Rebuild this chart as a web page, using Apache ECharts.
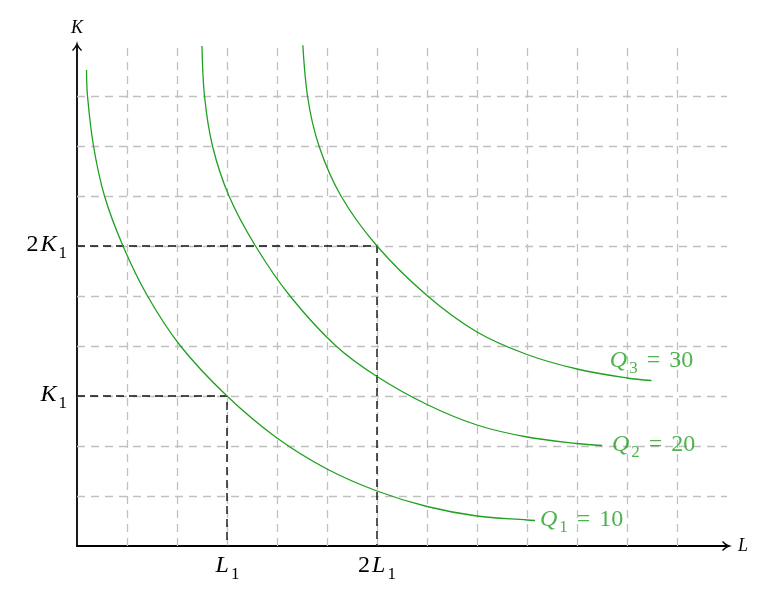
<!DOCTYPE html>
<html>
<head>
<meta charset="utf-8">
<script src="https://cdn.jsdelivr.net/npm/echarts@6/dist/echarts.min.js"></script>
<style>
html,body{margin:0;padding:0;background:#fff;}
#chart{width:775px;height:599px;}
</style>
</head>
<body>
<div id="chart"></div>
<script>
// ---- data ----
var xGridValues = [1,2,3,4,5,6,7,8,9,10,11,12];
var yGridValues = [1,2,3,4,5,6,7,8,9];
var L1 = 3, K1 = 3;
var xTickValues = [L1, 2 * L1];
var xTickLabels = ['{i|L}{s|1}', '{n|2}{i|L}{s|1}'];
var yTickValues = [K1, 2 * K1];
var yTickLabels = ['{i|K}{s|1}', '{n|2}{i|K}{s|1}'];

var q1Points = [[0.19,9.52],[0.21,9.0],[0.33,8.0],[0.55,7.0],[0.92,6.0],[1.41,5.0],[2.07,4.0],[3.0,3.0],[4.0,2.16],[5.0,1.54],[6.0,1.1],[7.0,0.79],[8.0,0.6],[9.0,0.52],[9.16,0.51]];
var q2Points = [[2.5,10.0],[2.55,9.0],[2.71,8.0],[3.04,7.0],[3.57,6.0],[4.26,5.0],[5.18,4.0],[6.0,3.39],[7.0,2.83],[8.0,2.42],[9.0,2.18],[10.0,2.05],[10.5,2.01]];
var q3Points = [[4.5,10.32],[4.61,9.0],[4.84,8.0],[5.28,7.0],[6.0,6.0],[7.0,5.01],[8.0,4.28],[9.0,3.83],[10.0,3.54],[11.0,3.36],[11.49,3.31]];
var qNames = ['1','2','3'];
var qValues = ['10','20','30'];

var green = '#20a020';
var serif = '"Liberation Serif", "DejaVu Serif", serif';

function richStyles(color, size) {
  var sub = Math.round(size * 0.7);
  return {
    i: {fontFamily: serif, fontStyle: 'italic', fontSize: size, color: color, lineHeight: size + 2, verticalAlign: 'top', padding: [0, 1, 0, 1]},
    n: {fontFamily: serif, fontSize: size, color: color, lineHeight: size + 2, verticalAlign: 'top', padding: [0, 1, 0, 0]},
    e: {fontFamily: serif, fontSize: size, color: color, lineHeight: size + 2, verticalAlign: 'top', padding: [0, 9, 0, 9]},
    s: {fontFamily: serif, fontSize: sub, color: color, lineHeight: sub, verticalAlign: 'top', padding: [12, 0, 0, 1]}
  };
}

var arrowPath = 'path://M0,9 Q4,5.5 5,0 Q6,5.5 10,9 L9.1,10 Q6,7.6 5,4 Q4,7.6 0.9,10 Z';

var chart = echarts.init(document.getElementById('chart'), null, {renderer: 'canvas'});

function curveSeries(name, pts) {
  return {
    name: name, type: 'line', data: pts, smooth: 0.35,
    showSymbol: false, symbol: 'none', z: 5,
    lineStyle: {color: green, width: 1.3}, itemStyle: {color: green}
  };
}

var curves = [q1Points, q2Points, q3Points];
var labelData = curves.map(function (pts, k) {
  var end = pts[pts.length - 1];
  var lab = k === 2
    ? {position: 'top', distance: 6, align: 'center'}
    : {position: 'right', distance: k === 0 ? 4 : 9};
  return {value: end, label: lab, qi: k};
});

var option = {
  animation: false,
  grid: {left: 77, right: 48, top: 46, bottom: 53, containLabel: false},
  xAxis: {
    type: 'value', min: 0, max: 13, interval: 1,
    name: 'L', nameLocation: 'end', nameGap: 11,
    nameTextStyle: {fontFamily: serif, fontStyle: 'italic', fontSize: 18, color: '#000', verticalAlign: 'middle'},
    axisLine: {show: true, symbol: ['none', arrowPath], symbolSize: [13, 10], lineStyle: {color: '#000', width: 1.8}},
    axisTick: {show: false},
    splitLine: {show: false},
    axisLabel: {
      show: true, margin: 8, interval: 0,
      formatter: function (v) { var i = xTickValues.indexOf(v); return i >= 0 ? xTickLabels[i] : ''; },
      rich: richStyles('#000', 24)
    }
  },
  yAxis: {
    type: 'value', min: 0, max: 10, interval: 1,
    name: 'K', nameLocation: 'end', nameGap: 9,
    nameTextStyle: {fontFamily: serif, fontStyle: 'italic', fontSize: 18, color: '#000'},
    axisLine: {show: true, symbol: ['none', arrowPath], symbolSize: [13, 10], lineStyle: {color: '#000', width: 1.8}},
    axisTick: {show: false},
    splitLine: {show: false},
    axisLabel: {
      show: true, margin: 10, interval: 0,
      formatter: function (v) { var i = yTickValues.indexOf(v); return i >= 0 ? yTickLabels[i] : ''; },
      rich: richStyles('#000', 24)
    }
  },
  series: [
    {
      name: 'grid', type: 'line', data: [], z: 1, silent: true,
      markLine: {
        z: 1, zlevel: 0,
        silent: true, symbol: ['none', 'none'], animation: false,
        label: {show: false},
        lineStyle: {color: '#c0c0c0', type: [8, 6], width: 1.3},
        emphasis: {disabled: true},
        data: xGridValues.map(function (v) { return {xAxis: v}; })
          .concat(yGridValues.map(function (v) { return {yAxis: v}; }))
      }
    },
    {
      name: 'ref1', type: 'line', data: [[0, K1], [L1, K1], [L1, 0]], symbol: 'none', z: 3, silent: true,
      lineStyle: {color: '#111', width: 1.4, type: [8, 5]}
    },
    {
      name: 'ref2', type: 'line', data: [[0, 2 * K1], [2 * L1, 2 * K1], [2 * L1, 0]], symbol: 'none', z: 3, silent: true,
      lineStyle: {color: '#111', width: 1.4, type: [8, 5]}
    },
    curveSeries('Q1', q1Points),
    curveSeries('Q2', q2Points),
    curveSeries('Q3', q3Points),
    {
      name: 'labels', type: 'scatter', symbolSize: 0, z: 6, silent: true,
      data: labelData,
      label: {
        show: true, color: green,
        formatter: function (p) {
          var k = p.data.qi;
          return '{i|Q}{s|' + qNames[k] + '}{e|=}{n|' + qValues[k] + '}';
        },
        rich: richStyles(green, 24)
      }
    }
  ]
};
chart.setOption(option);
</script>
</body>
</html>
